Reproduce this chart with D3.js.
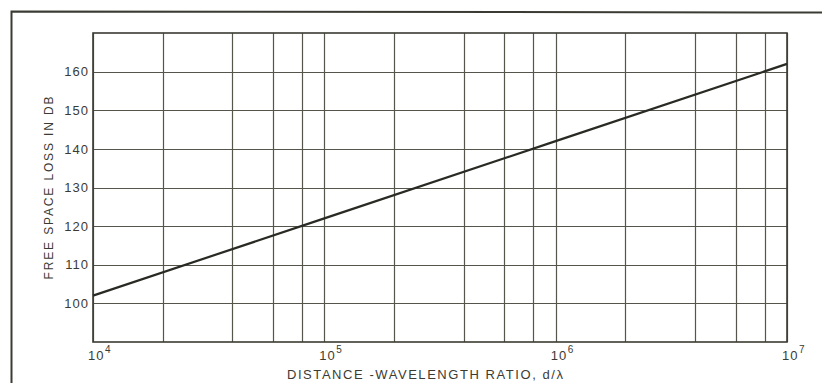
<!DOCTYPE html>
<html><head><meta charset="utf-8">
<script src="https://cdn.jsdelivr.net/npm/d3@7"></script>
<style>body{margin:0;background:#fff}svg{display:block}</style>
</head><body>
<svg id="c" width="822" height="383"></svg>
<script>
// Data
const ratioPoints = [1e4, 1e5, 1e6, 1e7];
const lossValues = [102, 122, 142, 162];
const xGridValues = [1e4,2e4,4e4,6e4,8e4,1e5,2e5,4e5,6e5,8e5,1e6,2e6,4e6,6e6,8e6,1e7];
const xTickValues = [1e4, 1e5, 1e6, 1e7];
const xTickExponents = ["4","5","6","7"];
const yTickValues = [100,110,120,130,140,150,160];
const yTickLabels = ["100","110","120","130","140","150","160"];
const yTitle = "FREE SPACE LOSS IN DB";
const xTitle = "DISTANCE -WAVELENGTH RATIO, d/\u03bb";

const svg = d3.select("#c");
const m = {left:93, right:787, top:33, bottom:342};
const x = d3.scaleLog().domain([1e4,1e7]).range([m.left, m.right]);
const y = d3.scaleLinear().domain([90,170]).range([m.bottom, m.top]);
const ink = "#3b3b33";
const font = "'Liberation Sans', Arial, sans-serif";

// outer frame
svg.append("path").attr("d", `M11.5,383 L11.5,11.5 L822,12.5`)
  .attr("fill","none").attr("stroke",ink).attr("stroke-width",2);

// gridlines
svg.append("g").selectAll("line").data(xGridValues).join("line")
  .attr("x1",d=>Math.round(x(d))+0.5).attr("x2",d=>Math.round(x(d))+0.5)
  .attr("y1",m.top).attr("y2",m.bottom)
  .attr("stroke","#55554b").attr("stroke-width",1.2);
svg.append("g").selectAll("line").data(yTickValues).join("line")
  .attr("x1",m.left).attr("x2",m.right)
  .attr("y1",d=>Math.round(y(d))+0.5).attr("y2",d=>Math.round(y(d))+0.5)
  .attr("stroke","#55554b").attr("stroke-width",1.2);

// plot border
svg.append("rect").attr("x",m.left).attr("y",m.top)
  .attr("width",m.right-m.left).attr("height",m.bottom-m.top)
  .attr("fill","none").attr("stroke",ink).attr("stroke-width",1.6);

// curve
const line = d3.line().x(d=>x(d[0])).y(d=>y(d[1]));
svg.append("path").datum(ratioPoints.map((r,i)=>[r,lossValues[i]]))
  .attr("d",line).attr("fill","none").attr("stroke","#2a2a24").attr("stroke-width",2.2);

// y tick labels
svg.append("g").selectAll("text").data(yTickValues).join("text")
  .attr("x",89).attr("y",d=>y(d)).attr("dy","0.36em")
  .attr("text-anchor","end").attr("font-family",font).attr("font-size",13)
  .attr("letter-spacing",1).attr("fill",ink)
  .text((d,i)=>yTickLabels[i]);

// x tick labels 10^n
const xt = svg.append("g").selectAll("g").data(xTickValues).join("g")
  .attr("transform",d=>`translate(${x(d)-5},360)`);
xt.append("text").attr("font-family",font).attr("font-size",13).attr("fill",ink)
  .attr("letter-spacing",1).text("10");
xt.append("text").attr("x",17).attr("y",-7).attr("font-family",font).attr("font-size",10)
  .attr("fill",ink).text((d,i)=>xTickExponents[i]);

// axis titles
svg.append("text").attr("transform","translate(53,188) rotate(-90)")
  .attr("text-anchor","middle").attr("font-family",font).attr("font-size",12)
  .attr("fill",ink).attr("textLength",183).attr("lengthAdjust","spacing").text(yTitle);
svg.append("text").attr("x",425).attr("y",379)
  .attr("text-anchor","middle").attr("font-family",font).attr("font-size",13)
  .attr("fill",ink).attr("textLength",276).attr("lengthAdjust","spacing").text(xTitle);
</script>
</body></html>
